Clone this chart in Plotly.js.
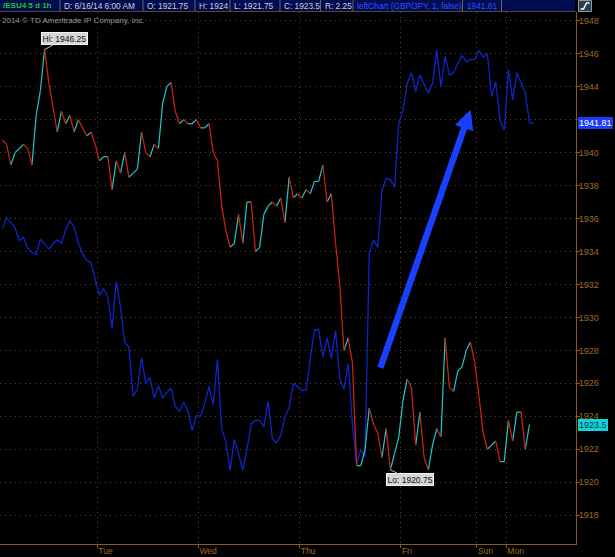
<!DOCTYPE html>
<html>
<head>
<meta charset="utf-8">
<script src="https://cdn.plot.ly/plotly-3.0.1.min.js"></script>
<style>
  html, body { margin: 0; padding: 0; background: #000; }
  #chart { width: 615px; height: 557px; }
</style>
</head>
<body>
<div id="chart"></div>
<script>
// ---- data (hourly closes, bar index 0..n) ----
const esClose = [
  1940.75, 1940.5, 1939.25, 1940.0, 1940.25, 1940.5, 1940.25, 1939.25, 1942.25, 1943.75,
  1946.25, 1944.25, 1942.75, 1941.25, 1942.5, 1941.75, 1942.25, 1941.25, 1942.0, 1941.5,
  1941.0, 1941.25, 1940.5, 1939.5, 1939.75, 1939.75, 1937.75, 1939.5, 1938.75, 1940.0,
  1938.5, 1938.75, 1939.0, 1941.25, 1940.0, 1939.75, 1940.5, 1940.25, 1943.0, 1944.0,
  1944.25, 1942.5, 1941.75, 1942.0, 1941.75, 1941.75, 1942.0, 1941.5, 1941.5, 1941.75,
  1940.0, 1939.5, 1936.75, 1935.25, 1934.25, 1934.5, 1936.25, 1934.5, 1937.0, 1937.0,
  1934.0, 1934.25, 1936.25, 1936.75, 1937.0, 1936.75, 1937.25, 1935.75, 1938.5, 1937.25,
  1937.5, 1937.25, 1937.75, 1937.5, 1938.25, 1938.25, 1939.25, 1937.0, 1937.5, 1934.5,
  1932.0, 1928.0, 1928.75, 1927.25, 1921.0, 1921.0, 1922.0, 1924.5, 1923.5, 1923.0,
  1921.5, 1923.25, 1920.75, 1921.75, 1922.75, 1925.0, 1926.25, 1925.75, 1922.25, 1924.25,
  1921.5, 1920.75, 1922.25, 1923.25, 1922.75, 1928.75, 1925.75, 1925.5, 1926.75, 1927.0,
  1928.0, 1928.5, 1927.25, 1925.25, 1923.0, 1922.0, 1922.25, 1922.5, 1921.25, 1921.25,
  1923.75, 1922.5, 1924.25, 1924.25, 1922.0, 1923.5
];
const gbpjpy = [
  1935.4, 1936.05, 1935.75, 1935.45, 1934.65, 1934.85, 1934.2, 1933.95, 1933.8, 1934.75,
  1934.45, 1934.15, 1934.45, 1934.7, 1934.5, 1935.3, 1935.85, 1935.5, 1934.5, 1933.9,
  1933.45, 1933.3, 1932.3, 1931.35, 1931.75, 1931.25, 1929.3, 1932.15, 1930.65, 1928.5,
  1928.2, 1925.2, 1925.65, 1927.55, 1926.0, 1926.35, 1925.1, 1925.85, 1925.1, 1925.45,
  1925.7, 1924.6, 1924.3, 1924.85, 1924.3, 1923.15, 1924.05, 1924.0, 1924.8, 1925.8,
  1924.7, 1927.45, 1923.25, 1922.45, 1920.7, 1922.6, 1921.75, 1920.7, 1922.0, 1923.55,
  1923.75, 1923.75, 1923.35, 1924.9, 1922.65, 1922.4, 1922.85, 1923.95, 1924.55, 1926.0,
  1925.8, 1925.55, 1925.6, 1927.4, 1929.25, 1929.25, 1927.6, 1928.75, 1927.5, 1929.2,
  1926.3, 1925.65, 1927.2, 1923.5, 1921.1, 1921.95, 1921.55, 1933.9, 1934.7, 1934.25,
  1937.7, 1938.45, 1938.35, 1937.9, 1941.75, 1942.6, 1944.2, 1944.85, 1943.7, 1944.7,
  1944.2, 1943.6, 1944.2, 1946.2, 1944.0, 1945.85, 1944.7, 1944.85, 1945.4, 1945.9,
  1945.5, 1945.65, 1945.65, 1946.2, 1945.8, 1946.0, 1943.4, 1944.3, 1942.0, 1941.35,
  1945.05, 1943.2, 1944.85, 1944.2, 1943.6, 1941.8, 1941.8
];
const dayTicks  = [22.5, 46.5, 70.5, 94.5, 112.5, 119.5];
const dayLabels = ['Tue', 'Wed', 'Thu', 'Fri', 'Sun', 'Mon'];
const priceTicks = [1918, 1920, 1922, 1924, 1926, 1928, 1930, 1932, 1934, 1936, 1938, 1940, 1942, 1944, 1946, 1948];
const headerCells = ['/ESU4 5 d 1h', 'D: 6/16/14 6:00 AM', 'O: 1921.75', 'H: 1924', 'L: 1921.75', 'C: 1923.5', 'R: 2.25', 'leftChart (GBP/JPY, 1, false)', '1941.81'];
const compareLast = 1941.81;
const copyrightText = '2014 \u00A9 TD Ameritrade IP Company, Inc.';
// hand-drawn trend arrow (tail -> tip), in bar index / price units
const arrowTail = [89.5, 1926.85];
const arrowTip  = [111.0, 1942.6];

// ---- geometry helpers ----
const M = {l: 0, r: 39, t: 12, b: 13};
const PW = 615 - M.l - M.r, PH = 557 - M.t - M.b;
const px2x = p => (p - M.l) / PW;
const py2y = p => (557 - M.b - p) / PH;
const FONT = 'Liberation Sans, Arial, sans-serif';

// ---- ES line split into up (cyan) and down (red) segments ----
const upX = [], upY = [], dnX = [], dnY = [];
for (let i = 0; i < esClose.length - 1; i++) {
  const tx = esClose[i + 1] >= esClose[i] ? [upX, upY] : [dnX, dnY];
  tx[0].push(i, i + 1, null);
  tx[1].push(esClose[i], esClose[i + 1], null);
}
const traces = [
  {x: gbpjpy.map((_, i) => i), y: gbpjpy, type: 'scatter', mode: 'lines',
   line: {color: '#0c26cc', width: 1.3}, hoverinfo: 'skip', name: 'GBP/JPY'},
  {x: upX, y: upY, type: 'scatter', mode: 'lines', connectgaps: false,
   line: {color: '#22c8c8', width: 1.2}, hoverinfo: 'skip', name: 'up'},
  {x: dnX, y: dnY, type: 'scatter', mode: 'lines', connectgaps: false,
   line: {color: '#d42410', width: 1.2}, hoverinfo: 'skip', name: 'down'}
];

// ---- hi / lo ----
let hiIdx = 0, loIdx = 0;
esClose.forEach((v, i) => { if (v > esClose[hiIdx]) hiIdx = i; if (v < esClose[loIdx]) loIdx = i; });

const shapes = [];
const annotations = [];

// header bar
shapes.push({type: 'rect', xref: 'paper', yref: 'paper', x0: px2x(0), x1: px2x(575), y0: py2y(11.5), y1: py2y(0),
  fillcolor: '#000d52', line: {width: 0}, layer: 'above'});
shapes.push({type: 'line', xref: 'paper', yref: 'paper', x0: px2x(0), x1: px2x(575.5), y0: py2y(11.5), y1: py2y(11.5),
  line: {color: '#5a4326', width: 1}, layer: 'above'});
const cellX = [2, 63, 146, 198, 233, 283, 323.5, 356, 466];
const divX = [60, 143, 195, 230, 280, 320.5, 353, 462.5, 501.5];
divX.forEach(d => shapes.push({type: 'line', xref: 'paper', yref: 'paper', x0: px2x(d), x1: px2x(d), y0: py2y(11.5), y1: py2y(0),
  line: {color: '#6e6450', width: 1}, layer: 'above'}));
headerCells.forEach((t, i) => {
  let color = '#d0d0d0';
  if (i === 0) color = '#22c422';
  if (i >= 7) color = '#3452ff';
  annotations.push({xref: 'paper', yref: 'paper', x: px2x(cellX[i]), y: py2y(5.8), xanchor: 'left', yanchor: 'middle',
    text: i === 0 ? '<b>' + t + '</b>' : t, showarrow: false, borderpad: 0,
    font: {family: FONT, size: i === 0 ? 8 : 8.3, color: color}});
});
// small icon at top right
shapes.push({type: 'rect', xref: 'paper', yref: 'paper', x0: px2x(578.5), x1: px2x(591.5), y0: py2y(11.5), y1: py2y(0.5),
  fillcolor: '#2c3c4c', line: {color: '#8a9aa8', width: 1}, layer: 'above'});
shapes.push({type: 'path', xref: 'paper', yref: 'paper',
  path: 'M' + px2x(580.5) + ',' + py2y(9) + ' L' + px2x(583.5) + ',' + py2y(9) + ' L' + px2x(586.5) + ',' + py2y(3) + ' L' + px2x(589.5) + ',' + py2y(3),
  line: {color: '#ffffff', width: 1.5}, layer: 'above'});

// copyright
annotations.push({xref: 'paper', yref: 'paper', x: px2x(0), y: py2y(20.5), xanchor: 'left', yanchor: 'middle',
  text: copyrightText, showarrow: false, font: {family: FONT, size: 8, color: '#9a9a9a'}});

// hi / lo bubbles
annotations.push({x: hiIdx, y: esClose[hiIdx], xref: 'x', yref: 'y', text: 'Hi: ' + esClose[hiIdx].toFixed(2),
  showarrow: true, arrowhead: 0, arrowwidth: 1, arrowcolor: '#bdbdbd', ax: 20, ay: -11, standoff: 0,
  bgcolor: '#d6d6d6', bordercolor: '#f4f4f4', borderwidth: 1, borderpad: 0.5,
  font: {family: FONT, size: 8.5, color: '#111111'}});
annotations.push({x: loIdx, y: esClose[loIdx], xref: 'x', yref: 'y', text: 'Lo: ' + esClose[loIdx].toFixed(2),
  showarrow: true, arrowhead: 0, arrowwidth: 1, arrowcolor: '#bdbdbd', ax: 20, ay: 10, standoff: 0,
  bgcolor: '#d6d6d6', bordercolor: '#f4f4f4', borderwidth: 1, borderpad: 0.5,
  font: {family: FONT, size: 8.5, color: '#111111'}});

// trend arrow
annotations.push({x: arrowTip[0], y: arrowTip[1], ax: arrowTail[0], ay: arrowTail[1], xref: 'x', yref: 'y', axref: 'x', ayref: 'y',
  text: '', showarrow: true, arrowhead: 2, arrowsize: 0.6, arrowwidth: 6.5, arrowcolor: '#1a40ff', standoff: 0});

// last value boxes on the price axis
annotations.push({xref: 'paper', yref: 'y', x: 1, xshift: 1.5, y: compareLast, xanchor: 'left', yanchor: 'middle',
  text: compareLast.toFixed(2), showarrow: false, bgcolor: '#1a3cff', bordercolor: '#1a3cff', borderwidth: 0, borderpad: 1,
  font: {family: FONT, size: 9, color: '#ffffff'}});
const lastES = esClose[esClose.length - 1];
annotations.push({xref: 'paper', yref: 'y', x: 1, xshift: 1.5, y: lastES, xanchor: 'left', yanchor: 'middle',
  text: String(lastES), showarrow: false, bgcolor: '#10d4dc', bordercolor: '#10d4dc', borderwidth: 0, borderpad: 1,
  font: {family: FONT, size: 9, color: '#04343c'}});

const axisColor = '#8c5a1c';
const gridColor = '#6a4616';
const layout = {
  width: 615, height: 557,
  margin: M,
  paper_bgcolor: '#000000', plot_bgcolor: '#000000',
  showlegend: false,
  xaxis: {
    range: [-0.57, 136.02], tickmode: 'array', tickvals: dayTicks, ticktext: dayLabels,
    showgrid: true, gridcolor: gridColor, griddash: '1px,4px', gridwidth: 1,
    showline: true, linecolor: axisColor, linewidth: 1,
    ticks: 'outside', ticklen: 3, tickcolor: axisColor,
    ticklabelposition: 'outside right', ticklabelstandoff: -1,
    tickfont: {family: FONT, size: 8.5, color: '#a06a22'},
    zeroline: false, fixedrange: true
  },
  yaxis: {
    side: 'right', range: [1916.25, 1948.53], tickmode: 'array', tickvals: priceTicks,
    showgrid: true, gridcolor: gridColor, griddash: '1px,4px', gridwidth: 1,
    showline: true, linecolor: axisColor, linewidth: 1,
    ticks: 'outside', ticklen: 3, tickcolor: axisColor, ticklabelstandoff: -3,
    tickfont: {family: FONT, size: 9, color: '#a06a22'},
    zeroline: false, fixedrange: true
  },
  shapes: shapes,
  annotations: annotations
};

Plotly.newPlot('chart', traces, layout, {staticPlot: true, displayModeBar: false});
</script>
</body>
</html>
